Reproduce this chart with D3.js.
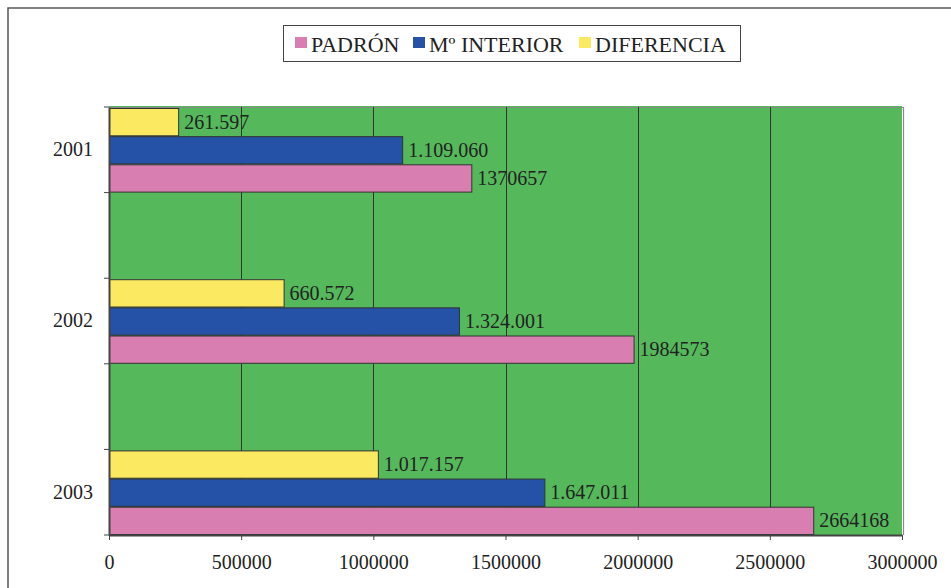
<!DOCTYPE html>
<html>
<head>
<meta charset="utf-8">
<script src="https://cdn.jsdelivr.net/npm/d3@7"></script>
<style>
  body { margin: 0; background: #fff; }
</style>
</head>
<body>
<svg id="chart" width="951" height="588"></svg>
<script>
// chart data
var years = ["2001", "2002", "2003"];
var slots = ["2001", "gap1", "2002", "gap2", "2003"];   // empty rows between years
var seriesKeys = ["DIFERENCIA", "Mº INTERIOR", "PADRÓN"];  // top to bottom inside a year
var legendKeys = ["PADRÓN", "Mº INTERIOR", "DIFERENCIA"];
var padron = [1370657, 1984573, 2664168];
var interior = [1109060, 1324001, 1647011];
var diferencia = [261597, 660572, 1017157];
var xTicks = [0, 500000, 1000000, 1500000, 2000000, 2500000, 3000000];

var FONT = "'Liberation Serif', 'DejaVu Serif', serif";
var colors = {"PADRÓN": "#d87eb1", "Mº INTERIOR": "#2551a6", "DIFERENCIA": "#fbe962"};
var dotFmt = function (v) { return d3.format(",")(v).replace(/,/g, "."); };
var plainFmt = d3.format("d");
var fmt = {"PADRÓN": plainFmt, "Mº INTERIOR": dotFmt, "DIFERENCIA": dotFmt};

var rows = [];
years.forEach(function (y, i) {
    rows.push({year: y, key: "DIFERENCIA", value: diferencia[i]});
    rows.push({year: y, key: "Mº INTERIOR", value: interior[i]});
    rows.push({year: y, key: "PADRÓN", value: padron[i]});
});

var svg = d3.select("#chart");

// outer frame (only left / top edges visible)
svg.append("rect").attr("x", 8).attr("y", 8).attr("width", 1000).attr("height", 1000)
    .attr("fill", "none").attr("stroke", "#555").attr("stroke-width", 1.5);

var x = d3.scaleLinear().domain([0, 3000000]).range([109, 902]);
var y = d3.scaleBand().domain(slots).range([107, 535]).padding(0);
var yi = d3.scaleBand().domain(seriesKeys).range([1.5, y.bandwidth() - 0.5]).paddingInner(0.03);

// plot area
svg.append("rect").attr("x", x.range()[0]).attr("y", y.range()[0] - 1)
    .attr("width", x.range()[1] - x.range()[0]).attr("height", y.range()[1] - y.range()[0] + 1)
    .attr("fill", "#55b95b");
svg.append("path")
    .attr("d", "M" + x.range()[0] + "," + (y.range()[0] + 0.5) + "H" + (x.range()[1] + 1.5) + "V" + y.range()[1])
    .attr("fill", "none").attr("stroke", "#8a8a8a").attr("stroke-width", 1.2);

// gridlines
svg.append("g").selectAll("line").data(xTicks.slice(1, -1)).join("line")
    .attr("x1", function (d) { return Math.round(x(d)) + 0.5; })
    .attr("x2", function (d) { return Math.round(x(d)) + 0.5; })
    .attr("y1", y.range()[0]).attr("y2", y.range()[1])
    .attr("stroke", "#333").attr("stroke-width", 1);

// bars
svg.append("g").selectAll("rect").data(rows).join("rect")
    .attr("x", x(0) + 0.5)
    .attr("y", function (d) { return y(d.year) + yi(d.key); })
    .attr("width", function (d) { return x(d.value) - x(0); })
    .attr("height", yi.bandwidth())
    .attr("fill", function (d) { return colors[d.key]; })
    .attr("stroke", "#333").attr("stroke-width", 1);

// value labels
svg.append("g").selectAll("text").data(rows).join("text")
    .attr("x", function (d) { return x(d.value) + 6; })
    .attr("y", function (d) { return y(d.year) + yi(d.key) + yi.bandwidth() / 2; })
    .attr("dy", "0.33em")
    .style("font-family", FONT).style("font-size", "20px").style("fill", "#222")
    .text(function (d) { return fmt[d.key](d.value); });

// x axis
var xAxis = svg.append("g").attr("transform", "translate(0," + y.range()[1] + ")")
    .call(d3.axisBottom(x).tickValues(xTicks).tickFormat(plainFmt).tickSizeInner(5).tickSizeOuter(0).tickPadding(15));
xAxis.select(".domain").attr("stroke", "#444").attr("stroke-width", 2);
xAxis.selectAll(".tick line").attr("stroke", "#444");
xAxis.selectAll("text").style("font-family", FONT).style("font-size", "20px").style("fill", "#222");

// y axis
var yAxis = svg.append("g").attr("transform", "translate(" + x.range()[0] + ",0)")
    .call(d3.axisLeft(y).tickSizeInner(0).tickSizeOuter(0).tickPadding(16)
        .tickFormat(function (d) { return years.indexOf(d) >= 0 ? d : ""; }));
yAxis.select(".domain").attr("stroke", "#444").attr("stroke-width", 2);
yAxis.selectAll("text").style("font-family", FONT).style("font-size", "20px").style("fill", "#222");
// category boundary ticks
var bounds = slots.map(function (s) { return y(s); }).concat([y.range()[1]]);
yAxis.append("g").selectAll("line").data(bounds).join("line")
    .attr("x1", -5).attr("x2", 0)
    .attr("y1", function (d) { return d; }).attr("y2", function (d) { return d; })
    .attr("stroke", "#444");

// legend
var legend = svg.append("g");
legend.append("rect").attr("x", 283.5).attr("y", 25.5).attr("width", 457).attr("height", 36)
    .attr("fill", "#fff").attr("stroke", "#444").attr("stroke-width", 1);
var legendX = [295, 413, 579];
var item = legend.selectAll("g.item").data(legendKeys).join("g").attr("class", "item")
    .attr("transform", function (d, i) { return "translate(" + legendX[i] + ",0)"; });
item.append("rect").attr("x", 0).attr("y", 37).attr("width", 12).attr("height", 11)
    .attr("fill", function (d) { return colors[d]; });
item.append("text").attr("x", 16).attr("y", 52)
    .style("font-family", FONT).style("font-size", "22px").style("fill", "#222")
    .text(function (d) { return d; });
</script>
</body>
</html>
